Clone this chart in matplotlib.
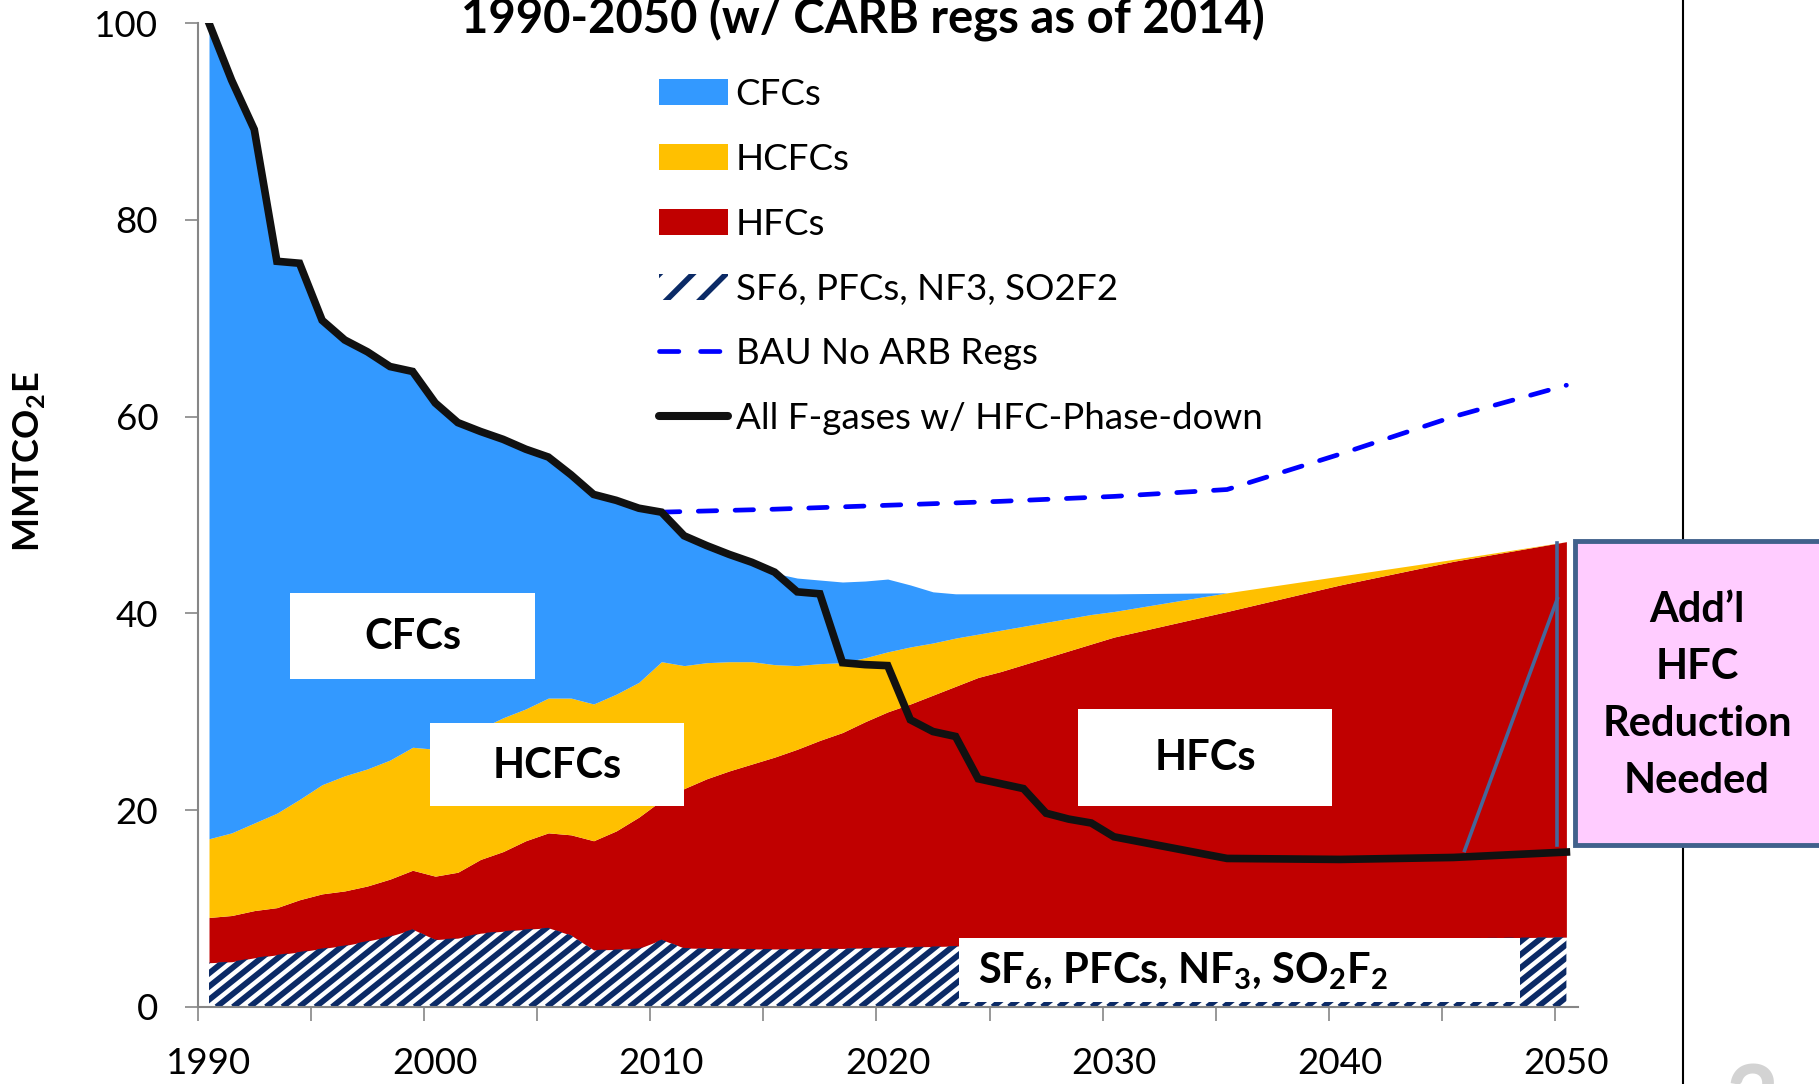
import numpy as np
import matplotlib
matplotlib.use("Agg")
import matplotlib.pyplot as plt
from matplotlib.patches import Patch, Rectangle
from matplotlib.lines import Line2D
from matplotlib.collections import LineCollection

plt.rcParams['font.family'] = ['Lato', 'DejaVu Sans']
plt.rcParams['mathtext.fontset'] = 'custom'
plt.rcParams['mathtext.rm'] = 'Lato'
plt.rcParams['mathtext.bf'] = 'Lato:bold'
plt.rcParams['hatch.linewidth'] = 4.0
plt.rcParams['hatch.color'] = '#0B2A66'

# years: yearly to 2030, then every 5 years
years = list(range(1990, 2031)) + [2035, 2040, 2045, 2050]

# top of each stacked band (MMTCO2E)
sf6_top = [4.5, 4.6, 5.0, 5.3, 5.6, 5.95, 6.25, 6.7, 7.2, 7.9,
           6.85, 7.0, 7.5, 7.7, 7.9, 8.05, 7.3, 5.8, 5.85, 5.95,
           6.85, 6.0, 5.95, 5.95, 5.9, 5.9, 5.9, 5.95, 5.95, 6.0,
           6.05, 6.1, 6.15, 6.2, 6.25, 6.3, 6.35, 6.4, 6.45, 6.5,
           6.55, 6.7, 6.85, 7.0, 7.1]
hfc_top = [9.1, 9.3, 9.8, 10.1, 10.9, 11.5, 11.8, 12.3, 13.0, 13.9,
           13.3, 13.7, 15.0, 15.8, 16.9, 17.7, 17.5, 16.9, 17.9, 19.3,
           21.0, 22.2, 23.2, 24.0, 24.7, 25.4, 26.2, 27.1, 27.9, 29.0,
           30.0, 30.8, 31.7, 32.6, 33.5, 34.1, 34.8, 35.5, 36.2, 36.9,
           37.6, 40.2, 42.9, 45.3, 47.3]
hcfc_top = [17.1, 17.7, 18.7, 19.7, 21.1, 22.6, 23.5, 24.2, 25.1, 26.4,
            26.2, 27.0, 28.3, 29.4, 30.3, 31.4, 31.4, 30.8, 31.8, 33.0,
            35.1, 34.7, 35.0, 35.1, 35.1, 34.8, 34.7, 34.9, 35.0, 35.5,
            36.1, 36.6, 37.0, 37.5, 37.9, 38.3, 38.7, 39.1, 39.5, 39.9,
            40.2, 42.1, 43.8, 45.5, 47.3]
cfc_top = [100, 94.2, 89.2, 75.8, 75.6, 69.8, 67.8, 66.6, 65.1, 64.6,
           61.4, 59.4, 58.5, 57.7, 56.7, 55.9, 54.1, 52.1, 51.5, 50.7,
           50.3, 47.9, 46.9, 46.0, 45.2, 44.1, 43.6, 43.4, 43.2, 43.3,
           43.5, 42.9, 42.2, 42.0, 42.0, 42.0, 42.0, 42.0, 42.0, 42.0,
           42.0, 42.1, 43.8, 45.5, 47.3]

# All F-gases w/ HFC phase-down
phasedown = [100, 94.2, 89.2, 75.8, 75.6, 69.8, 67.8, 66.6, 65.1, 64.6,
             61.4, 59.4, 58.5, 57.7, 56.7, 55.9, 54.1, 52.1, 51.5, 50.7,
             50.3, 47.9, 46.9, 46.0, 45.2, 44.2, 42.2, 42.0, 35.0, 34.8,
             34.7, 29.2, 28.0, 27.5, 23.2, 22.7, 22.2, 19.7, 19.1, 18.7,
             17.3, 15.1, 15.0, 15.2, 15.75]

# BAU no ARB regs
bau_years = [2010, 2015, 2020, 2025, 2030, 2035, 2040, 2045, 2050]
bau = [50.3, 50.6, 51.0, 51.4, 51.9, 52.6, 56.2, 60.0, 63.2]

blue = '#3399FF'
yellow = '#FFC000'
red = '#C00000'
navy = '#0B2A66'
grey = '#868686'

W, H = 1819, 1084
fig = plt.figure(figsize=(W / 100, H / 100), dpi=100)
ax = fig.add_axes([197.7 / W, 77 / H, 1380 / W, 983.8 / H])

sf6 = ax.fill_between(years, 0, sf6_top, facecolor='white', linewidth=0, zorder=1)
ax.fill_between(years, sf6_top, hfc_top, color=red, linewidth=0, zorder=1)
ax.fill_between(years, hfc_top, hcfc_top, color=yellow, linewidth=0, zorder=1)
ax.fill_between(years, hcfc_top, cfc_top, color=blue, linewidth=0, zorder=1)

# diagonal stripes for the SF6 group
x0s = np.arange(1975, 2051, 0.73)
segs = [[(x0, 0), (x0 + 12, 12 * 1.84)] for x0 in x0s]
stripes = LineCollection(segs, colors=navy, linewidths=4.2, zorder=1.5)
ax.add_collection(stripes)
stripes.set_clip_path(sf6.get_paths()[0], ax.transData)

ax.plot(bau_years, bau, color='#0000FF', lw=3.4, dashes=(3.9, 3.9),
        dash_capstyle='round', zorder=4)
ax.plot(years, phasedown, color='#111111', lw=5.5, solid_joinstyle='miter', zorder=4)

# white label boxes
box_kw = dict(facecolor='white', edgecolor='none', zorder=3)
ax.add_patch(Rectangle((1993.58, 33.33), 10.83, 8.74, **box_kw))
ax.add_patch(Rectangle((1999.77, 20.4), 11.23, 8.5, **box_kw))
ax.add_patch(Rectangle((2028.42, 20.4), 11.23, 9.85, **box_kw))
ax.add_patch(Rectangle((2023.16, 0.5), 24.77, 6.47, **box_kw))
lbl = dict(fontsize=30, fontweight='bold', ha='center', va='center', zorder=5)
ax.text(1999.0, 37.6, 'CFCs', **lbl)
ax.text(2005.4, 24.5, 'HCFCs', **lbl)
ax.text(2034.05, 25.3, 'HFCs', **lbl)
ax.text(2024.0, 3.6, r'SF$_\mathbf{6}$, PFCs, NF$_\mathbf{3}$, SO$_\mathbf{2}$F$_\mathbf{2}$',
        fontsize=30, fontweight='bold', ha='left', va='center', zorder=5)

# connector from the call-out box
ax.plot([2045.5, 2049.6], [15.9, 41.5], color='#46679A', lw=2.6, zorder=5)
ax.plot([2049.6, 2049.6], [16.5, 47.2], color='#46679A', lw=2.6, zorder=5)

ax.set_xlim(1989.5, 2050.5)
ax.set_ylim(0, 100)
ax.set_yticks([0, 20, 40, 60, 80, 100])
ax.set_xticks([1990, 2000, 2010, 2020, 2030, 2040, 2050])
ax.set_xticks(np.arange(1989.5, 2050, 5), minor=True)
ax.tick_params(axis='y', labelsize=26.5, length=9.4, width=1.2, color=grey, pad=19)
ax.tick_params(axis='x', which='major', labelsize=26.5, length=0, pad=29)
ax.tick_params(axis='x', which='minor', length=10, width=1.2, color=grey)
for s in ['top', 'right']:
    ax.spines[s].set_visible(False)
for s in ['left', 'bottom']:
    ax.spines[s].set_color(grey)
    ax.spines[s].set_linewidth(1.5)

handles = [Patch(facecolor=blue, edgecolor='none'),
           Patch(facecolor=yellow, edgecolor='none'),
           Patch(facecolor=red, edgecolor='none'),
           Patch(facecolor='white', edgecolor=navy, hatch='/', linewidth=0),
           Line2D([], [], color='#0000FF', lw=3.4, dashes=(4.1, 4.6),
                  dash_capstyle='round'),
           Line2D([], [], color='#111111', lw=5.8, solid_capstyle='round')]
labels = ['CFCs', 'HCFCs', 'HFCs', 'SF6, PFCs, NF3, SO2F2', 'BAU No ARB Regs',
          'All F-gases w/ HFC-Phase-down']
fig.legend(handles, labels, loc='upper left', bbox_to_anchor=(659 / W, 1 - 78 / H),
           frameon=False, fontsize=26.5, borderpad=0, borderaxespad=0,
           handlelength=1.88, handleheight=0.72, handletextpad=0.2, labelspacing=0.865)

fig.text(863 / W, 1 - 34 / H, '1990-2050 (w/ CARB regs as of 2014)', fontsize=34,
         fontweight='bold', ha='center', va='baseline')
fig.text(29 / W, 1 - 461.5 / H, r'MMTCO$_\mathbf{2}$E', fontsize=26, fontweight='bold',
         rotation=90, ha='center', va='center')

# right divider line and call-out box
fig.add_artist(Line2D([1682.7 / W, 1682.7 / W], [0, 1], transform=fig.transFigure,
                      color='black', lw=1.5, zorder=1))
fig.add_artist(Rectangle((1575 / W, 1 - 845 / H), 300 / W, 304 / H,
                         transform=fig.transFigure, facecolor='#FFCCFF',
                         edgecolor='#41618C', lw=3.5, zorder=5))
for txt, yy in zip(['Add’l', 'HFC', 'Reduction', 'Needed'], [610, 667, 724, 781]):
    fig.text(1697 / W, 1 - yy / H, txt, fontsize=30, fontweight='bold',
             ha='center', va='center', zorder=6)

fig.text(1752 / W, 1 - 1063 / H, '2', fontsize=66, fontweight='bold', color='#D3D3D3',
         ha='center', va='top')

fig.savefig('out.png', dpi=100)
